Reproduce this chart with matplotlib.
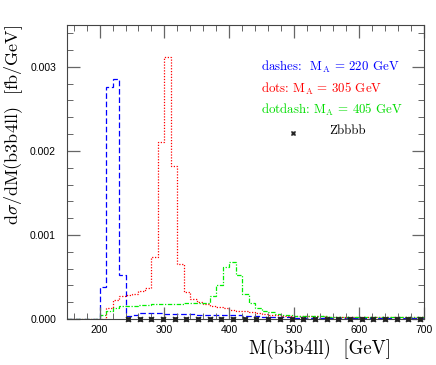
import numpy as np
import matplotlib
matplotlib.use("Agg")
import matplotlib.pyplot as plt
from matplotlib.ticker import MultipleLocator, FixedLocator

plt.rcParams['mathtext.fontset'] = 'cm'

# bin edges in GeV (10 GeV bins)
edges = np.arange(150, 701, 10)

# M_A = 220 GeV (blue, dashes)
blue = ([0.0] * 5 + [0.00038, 0.00276, 0.00286, 0.00052, 0.00004, 0.00005]
        + [0.00007] * 4 + [0.00006] * 5 + [0.00005] * 7 + [0.00003] * 3
        + [0.00002] * 5 + [0.00001] * 20)

# M_A = 305 GeV (red, dots)
red = ([0.0] * 6 + [0.00013, 0.00023, 0.00027, 0.00028, 0.00030, 0.00033,
                    0.00037, 0.00074, 0.00210, 0.00312, 0.00182, 0.00066,
                    0.00032, 0.00024, 0.00020, 0.00018, 0.00016, 0.00014,
                    0.00013, 0.00011, 0.00010, 0.00009, 0.00008, 0.00007,
                    0.00006]
       + [0.00005] * 2 + [0.00004] * 2 + [0.00003] * 5 + [0.00002] * 15)

# M_A = 405 GeV (green, dotdash)
green = ([0.0] * 5 + [0.00005, 0.00009, 0.00013, 0.00015]
         + [0.00016] * 2 + [0.00017] * 2 + [0.000175] * 5 + [0.00019] * 4
         + [0.00027, 0.00040, 0.00062, 0.00068, 0.00052, 0.00030, 0.00019,
            0.00013, 0.00010, 0.00008, 0.00006]
         + [0.00005] * 2 + [0.00003] * 5 + [0.00002] * 15)

# Zbbbb background points
zb_x = [244, 262, 280, 298, 316, 334, 352, 370, 388, 406, 424, 442, 460,
        478, 496, 514, 532, 550, 568, 586, 604, 622, 640, 658, 676, 694]
zb_y = [0.0] * len(zb_x)

fig = plt.figure(figsize=(4.36, 3.65), dpi=100)
ax = fig.add_axes([0.154, 0.126, 0.818, 0.806])

ax.stairs(blue, edges, color='#0000ff', lw=0.9, linestyle=(0, (4.5, 2.2)))
ax.stairs(red, edges, color='#ff0000', lw=0.9, linestyle=(0, (1, 1.3)))
ax.stairs(green, edges, color='#00ee00', lw=0.9,
          linestyle=(0, (3.5, 1.3, 1, 1.3)))
ax.plot(zb_x, zb_y, linestyle='none', marker=(4, 1, 45), ms=5,
        color='#222222', mec='#222222', mew=0.6, clip_on=False, zorder=5)

ax.set_xlim(150, 700)
ax.set_ylim(0, 0.0035)
ax.xaxis.set_major_locator(FixedLocator([200, 300, 400, 500, 600, 700]))
ax.xaxis.set_minor_locator(MultipleLocator(20))
ax.yaxis.set_major_locator(MultipleLocator(0.001))
ax.yaxis.set_minor_locator(MultipleLocator(0.0002))
ax.yaxis.set_major_formatter(lambda v, p: f"{v:.3f}")

ax.tick_params(which='both', direction='in', top=True, right=True,
               color='#666666', labelsize=7.5)
ax.tick_params(which='major', length=9, width=0.9)
ax.tick_params(which='minor', length=4, width=0.7)
ax.tick_params(axis='y', pad=8)
ax.tick_params(axis='x', pad=4)
for lab in ax.get_xticklabels() + ax.get_yticklabels():
    lab.set_family('Liberation Sans')
for s in ax.spines.values():
    s.set_color('#444444')
    s.set_linewidth(0.8)

fig.text(320 / 436, 1 - 349 / 365, 'M(b3b4ll)  [GeV]', family='cmr10',
         fontsize=13.5, ha='center', va='center')
fig.text(14 / 436, 1 - 125 / 365, r'd$\sigma$/dM(b3b4ll)  [fb/GeV]',
         family='cmr10', fontsize=13, rotation=90, ha='center', va='center')

tx = 0.543
fs = 9.3
ax.text(tx, 0.856, r'dashes:  M$_\mathrm{A}$ = 220 GeV', color='#0000ff',
        family='cmr10', fontsize=fs, transform=ax.transAxes, va='center')
ax.text(tx, 0.781, r'dots: M$_\mathrm{A}$ = 305 GeV', color='#ff0000',
        family='cmr10', fontsize=fs, transform=ax.transAxes, va='center')
ax.text(tx, 0.711, r'dotdash: M$_\mathrm{A}$ = 405 GeV', color='#00dd00',
        family='cmr10', fontsize=fs, transform=ax.transAxes, va='center')
ax.plot([0.634], [0.632], marker=(4, 1, 45), ms=4, color='#222222',
        mew=0.5, transform=ax.transAxes, linestyle='none')
ax.text(0.735, 0.640, 'Zbbbb', color='black', family='cmr10', fontsize=fs,
        transform=ax.transAxes, va='center')

fig.savefig('out.png', dpi=100)
